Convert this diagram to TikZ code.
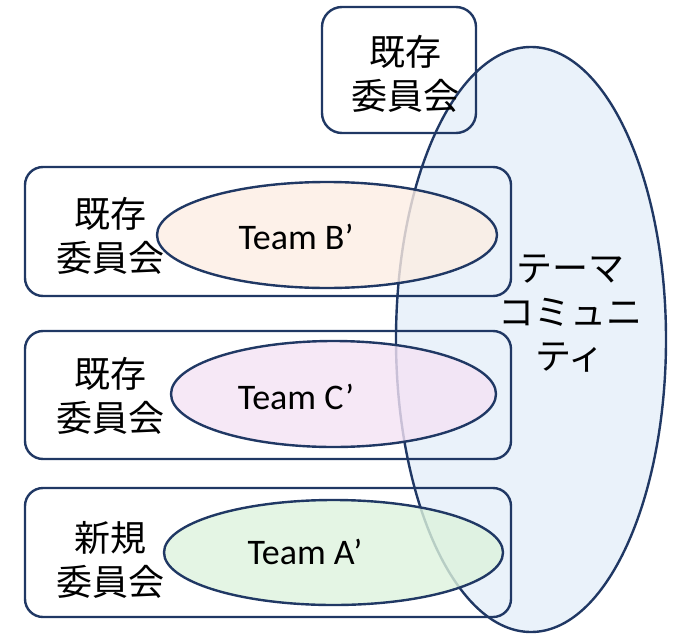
\documentclass[tikz,border=0pt]{standalone}
\usepackage{fontspec}
\usetikzlibrary{shapes.geometric}
\newfontfamily\jpfont{Noto Sans CJK JP}
\newfontfamily\latfont{Carlito}
\definecolor{navy}{HTML}{203864}
\definecolor{themefill}{HTML}{EAF2FA}
\definecolor{bfill}{HTML}{FCEDE3}
\definecolor{cfill}{HTML}{F4E2F4}
\definecolor{afill}{HTML}{DDF3DD}
\tikzset{
  frame/.style={draw=navy, line width=2.4pt, rounded corners=20pt, inner sep=0pt},
  team/.style={ellipse, draw=navy, line width=2.4pt, fill opacity=0.8, text opacity=1, inner sep=0pt},
  jptext/.style={font=\jpfont\fontsize{36}{44}\selectfont, align=center, text=black},
  teamtext/.style={font=\latfont\fontsize{36}{40}\selectfont, text=black}
}
\begin{document}
\begin{tikzpicture}[x=1pt,y=-1pt]
\useasboundingbox (0,0) rectangle (674,634);
% theme community ellipse
\node[ellipse, draw=navy, line width=2.4pt, fill=themefill, inner sep=0pt,
      minimum width=270pt, minimum height=585pt] (theme) at (531,339.5) {};
% committee frames
\node[frame, minimum width=154pt, minimum height=126pt] (box0) at (399,70) {};
\node[frame, rounded corners=18pt, minimum width=486pt, minimum height=129pt] (boxB) at (268,231.5) {};
\node[frame, rounded corners=18pt, minimum width=486pt, minimum height=128pt] (boxC) at (268,395) {};
\node[frame, rounded corners=18pt, minimum width=486pt, minimum height=129pt] (boxA) at (268,552.5) {};
% team ellipses
\node[team, fill=bfill, minimum width=340pt, minimum height=106pt] (eB) at (327,235) {};
\node[team, fill=cfill, minimum width=325pt, minimum height=106pt] (eC) at (333.5,394) {};
\node[team, fill=afill, minimum width=339pt, minimum height=105pt] (eA) at (333.5,552.5) {};
% texts
\node[jptext] (t0) at (405,74) {既存\\委員会};
\node[jptext] (tB) at (110,236) {既存\\委員会};
\node[jptext] (tC) at (110,396) {既存\\委員会};
\node[jptext] (tA) at (110,560) {新規\\委員会};
\node[jptext] (tT) at (570,314) {テーマ\\コミュニ\\ティ};
\node[teamtext] (lB) at (296,237) {Team B’};
\node[teamtext] (lC) at (296,397) {Team C’};
\node[teamtext] (lA) at (305,552) {Team A’};
\end{tikzpicture}
\end{document}
